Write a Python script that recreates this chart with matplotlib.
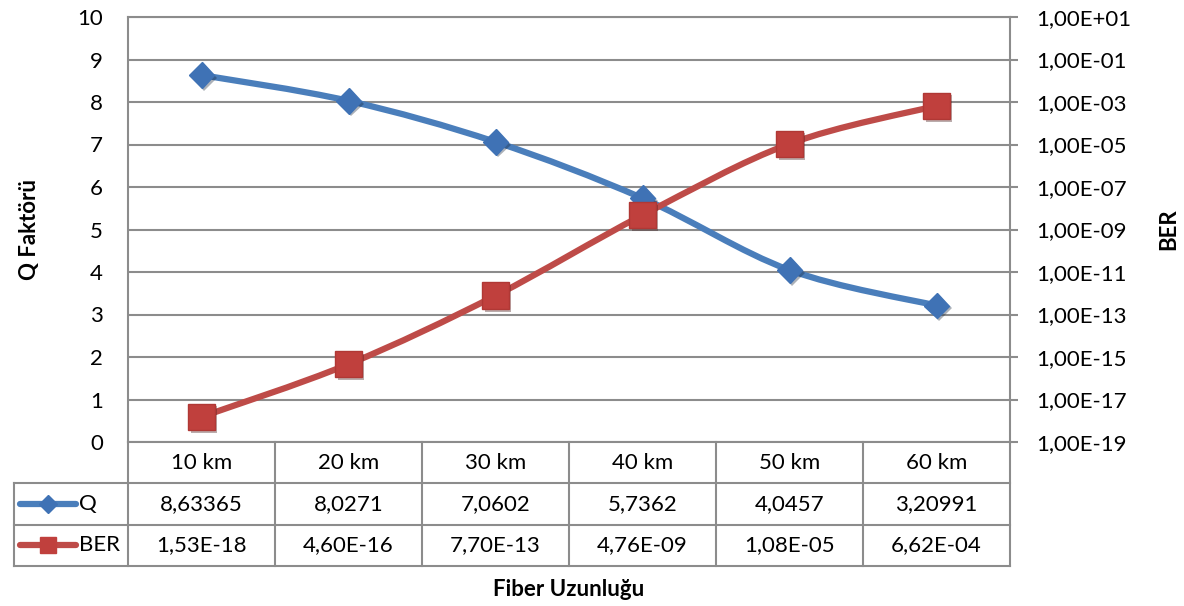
import numpy as np
import matplotlib.pyplot as plt
import matplotlib.patheffects as pe
from matplotlib.path import Path
from matplotlib.patches import PathPatch

plt.rcParams['font.family'] = ['Lato', 'DejaVu Sans']

distances = ['10 km', '20 km', '30 km', '40 km', '50 km', '60 km']
q_values = [8.63365, 8.0271, 7.0602, 5.7362, 4.0457, 3.20991]
ber_values = [1.53e-18, 4.60e-16, 7.70e-13, 4.76e-09, 1.08e-05, 6.62e-04]

q_color = '#4A7EBB'
q_marker = '#3F72B5'
ber_color = '#BE4B48'
ber_marker = '#C0403D'
grid_color = '#8C8C8C'
fs = 16


def fmt_sci(v):
  return f'{v:.2E}'.replace('.', ',')


def smooth_path(x, y):
  # excel-like smoothed line: bezier segments through the points
  pts = np.column_stack([x, y]).astype(float)
  pad = np.vstack([pts[0], pts, pts[-1]])
  verts = [pts[0]]
  codes = [Path.MOVETO]
  for i in range(len(pts) - 1):
    p0, p1, p2, p3 = pad[i], pad[i + 1], pad[i + 2], pad[i + 3]
    verts += [p1 + (p2 - p0) / 6, p2 - (p3 - p1) / 6, p2]
    codes += [Path.CURVE4] * 3
  return np.array(verts), codes


W, H = 1184, 606
fig = plt.figure(figsize=(W / 100, H / 100), dpi=100)
L, R, T, B = 128, 1010, 17, 442
ax = fig.add_axes([L / W, 1 - B / H, (R - L) / W, (B - T) / H])
ax2 = ax.twinx()

x = np.arange(len(distances))
ax.set_xlim(-0.5, len(distances) - 0.5)
ax.set_ylim(0, 10)
ax.set_yticks(range(0, 11))
ax.set_xticks([])
ax.grid(axis='y', color=grid_color, lw=1.5)
ax.set_axisbelow(True)
ax.tick_params(axis='y', length=0, pad=18, labelsize=fs)
for s in ax.spines.values():
  s.set_color(grid_color)
  s.set_linewidth(1.5)

ax2.set_yscale('log')
ax2.set_ylim(1e-19, 1e1)
ber_ticks = 10.0 ** np.arange(-19, 2, 2)
ax2.set_yticks(ber_ticks)
ax2.set_yticklabels([fmt_sci(t) for t in ber_ticks])
ax2.minorticks_off()
ax2.tick_params(axis='y', length=6, width=1.5, color=grid_color, pad=13, labelsize=fs)
for s in ax2.spines.values():
  s.set_visible(False)

shadow = [pe.SimplePatchShadow(offset=(2, -2), alpha=0.35), pe.Normal()]

# Q series
verts, codes = smooth_path(x, q_values)
ax.add_patch(PathPatch(Path(verts, codes), fill=False, edgecolor=q_color,
                       lw=4.5, capstyle='round', joinstyle='round'))
ax.plot(x, q_values, ls='none', marker='D', ms=13, mfc=q_marker,
        mec=q_marker, path_effects=shadow)

# BER series, smoothed in log space
verts, codes = smooth_path(x, np.log10(ber_values))
verts[:, 1] = 10.0 ** verts[:, 1]
ax2.add_patch(PathPatch(Path(verts, codes), fill=False, edgecolor=ber_color,
                        lw=4.5, capstyle='round', joinstyle='round'))
ax2.plot(x, ber_values, ls='none', marker='s', ms=19, mfc=ber_marker,
         mec='#B03835', path_effects=shadow)

ax.set_ylabel('Q Faktörü', fontsize=fs, fontweight='bold', labelpad=27)
ax2.set_ylabel('BER', fontsize=fs, fontweight='bold', rotation=90, labelpad=19)

# data table under the plot, drawn in pixel positions
to_ax = lambda px, py: ((px - L) / (R - L), (B - py) / (B - T))


def seg(x0, y0, x1, y1, **kw):
  a0, b0 = to_ax(x0, y0)
  a1, b1 = to_ax(x1, y1)
  ax.plot([a0, a1], [b0, b1], transform=ax.transAxes, clip_on=False, **kw)


def put(px, py, s, **kw):
  a, b = to_ax(px, py)
  ax.text(a, b, s, transform=ax.transAxes, fontsize=fs, va='center', **kw)


row_y = [442, 483.3, 524.6, 566]
tab_left = 14
col_w = (R - L) / len(distances)
line_kw = dict(color=grid_color, lw=1.5, solid_capstyle='projecting')
for y in row_y[1:]:
  seg(tab_left, y, R, y, **line_kw)
seg(tab_left, row_y[1], tab_left, row_y[3], **line_kw)
for k in range(len(distances) + 1):
  seg(L + k * col_w, row_y[0], L + k * col_w, row_y[3], **line_kw)

q_text = [str(v).replace('.', ',') for v in q_values]
ber_text = [fmt_sci(v) for v in ber_values]
for r, row in enumerate([distances, q_text, ber_text]):
  yc = (row_y[r] + row_y[r + 1]) / 2
  for j, t in enumerate(row):
    put(L + (j + 0.5) * col_w, yc, t, ha='center')

# legend keys inside the table
for r, col, mk, mc, ms, name in [(1, q_color, 'D', q_marker, 9, 'Q'),
                                 (2, ber_color, 's', ber_marker, 11, 'BER')]:
  yc = (row_y[r] + row_y[r + 1]) / 2
  seg(20, yc, 76, yc, color=col, lw=4.5, solid_capstyle='round')
  a, b = to_ax(48, yc)
  ax.plot([a], [b], marker=mk, ms=ms, color=mc, transform=ax.transAxes,
          clip_on=False)
  put(79, yc, name, ha='left')

fig.text((L + R) / 2 / W, 1 - 589 / H, 'Fiber Uzunluğu', fontsize=fs,
         fontweight='bold', ha='center', va='center')

fig.savefig('out.png', dpi=100)
